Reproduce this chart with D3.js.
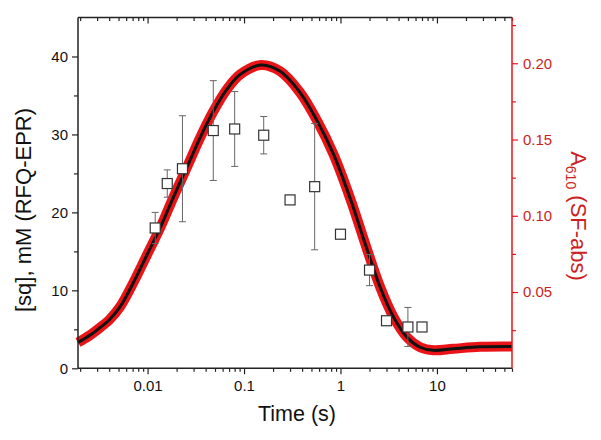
<!DOCTYPE html>
<html>
<head>
<meta charset="utf-8">
<script src="https://cdn.jsdelivr.net/npm/d3@7"></script>
<style>
  body { margin: 0; background: #fff; }
  svg { font-family: Arial, "Liberation Sans", sans-serif; }
</style>
</head>
<body>
<svg id="chart" width="601" height="440"></svg>
<script>
// ── Data ──────────────────────────────────────────────────────────
// RFQ-EPR points: time (s), [sq] (mM), error (mM)
const eprTime = [0.012, 0.016, 0.023, 0.048, 0.08, 0.16, 0.3, 0.54, 1.0, 2.0, 3.0, 5.0, 7.0];
const eprSq   = [18.0, 23.7, 25.6, 30.5, 30.7, 29.9, 21.6, 23.3, 17.2, 12.6, 6.1, 5.3, 5.3];
const eprErr  = [2.0, 1.75, 6.8, 6.4, 4.8, 2.4, 0.3, 8.1, 0.5, 2.0, 0.4, 2.5, 0];

// SF-abs trace (A610) and kinetic fit ([sq], mM)
const sfTime = [0.0019, 0.0025, 0.0032, 0.004, 0.0052, 0.0072, 0.0099, 0.0136, 0.0186, 0.0256,
                0.0351, 0.0483, 0.0665, 0.0914, 0.15, 0.237, 0.38, 0.57, 0.85, 1.26,
                1.88, 2.58, 3.54, 4.88, 6.7, 9.2, 14.8, 28, 60];
const sfA610 = [0.0169, 0.0215, 0.0266, 0.0317, 0.0404, 0.0567, 0.0746, 0.0925, 0.1124, 0.1319,
                0.1513, 0.1687, 0.1830, 0.1927, 0.1988, 0.1947, 0.1809, 0.1625, 0.1400, 0.1114,
                0.0782, 0.0532, 0.0337, 0.0204, 0.0138, 0.0118, 0.0128, 0.0141, 0.0143];
const fitSq  = [3.3, 4.2, 5.2, 6.2, 7.9, 11.1, 14.6, 18.1, 22.0, 25.8,
                29.6, 33.0, 35.8, 37.7, 38.9, 38.1, 35.4, 31.8, 27.4, 21.8,
                15.3, 10.4, 6.6, 4.0, 2.7, 2.3, 2.5, 2.75, 2.8];

const xMajor = [0.01, 0.1, 1, 10];
const xLabels = ['0.01', '0.1', '1', '10'];
const yLeftTicks = [0, 10, 20, 30, 40];
const yRightTicks = [0.05, 0.10, 0.15, 0.20];

// ── Layout ─────────────────────────────────────────────────────────
const L = 78, R = 512, T = 17.5, B = 368.3;
const RED = '#ea1418', RED_TXT = '#cc1f22', AX = '#222';

const svg = d3.select('#chart');
const x = d3.scaleLog().domain([0.0019, 60]).range([L, R]);
const yL = d3.scaleLinear().domain([0, 45]).range([B, T]);
const yR = d3.scaleLinear().domain([0, 0.23]).range([B, T]);

const xMinor = x.ticks().filter(t => !xMajor.some(m => Math.abs(m - t) / m < 1e-6));

// ── Curves ─────────────────────────────────────────────────────────
const sfLine = d3.line()
  .x((d, i) => x(sfTime[i]))
  .y(d => yR(d))
  .curve(d3.curveCatmullRom.alpha(0.5));
svg.append('path')
  .attr('d', sfLine(sfA610))
  .attr('fill', 'none')
  .attr('stroke', RED)
  .attr('stroke-width', 10)
  .attr('stroke-linejoin', 'round');

const fitLine = d3.line()
  .x((d, i) => x(sfTime[i]))
  .y(d => yL(d))
  .curve(d3.curveCatmullRom.alpha(0.5));
svg.append('path')
  .attr('d', fitLine(fitSq))
  .attr('fill', 'none')
  .attr('stroke', '#111')
  .attr('stroke-width', 3);

// ── Error bars + squares ───────────────────────────────────────────
const pts = eprTime.map((t, i) => ({ t, v: eprSq[i], e: eprErr[i] }));
const eb = svg.append('g').attr('stroke', '#666').attr('stroke-width', 1);
pts.filter(d => d.e > 0.6).forEach(d => {
  const cx = x(d.t);
  eb.append('line').attr('x1', cx).attr('x2', cx).attr('y1', yL(d.v + d.e)).attr('y2', yL(d.v - d.e));
  [d.v + d.e, d.v - d.e].forEach(v => {
    eb.append('line').attr('x1', cx - 3.5).attr('x2', cx + 3.5).attr('y1', yL(v)).attr('y2', yL(v));
  });
});
svg.append('g').selectAll('rect')
  .data(pts)
  .join('rect')
    .attr('x', d => x(d.t) - 5)
    .attr('y', d => yL(d.v) - 5)
    .attr('width', 10)
    .attr('height', 10)
    .attr('fill', '#fff')
    .attr('stroke', '#333')
    .attr('stroke-width', 1.2);

// ── Axes ───────────────────────────────────────────────────────────
function styleAxis(g, color) {
  g.select('.domain').remove();
  g.selectAll('line').attr('stroke', color).attr('stroke-width', 1.2);
  g.selectAll('text').attr('fill', color === AX ? '#111' : RED_TXT).style('font-size', '15px');
}

// bottom
svg.append('g').attr('transform', `translate(0,${B})`)
  .call(d3.axisBottom(x).tickValues(xMajor).tickFormat((d, i) => xLabels[i]).tickSize(6).tickPadding(6))
  .call(g => styleAxis(g, AX));
svg.append('g').attr('transform', `translate(0,${B})`)
  .call(d3.axisBottom(x).tickValues(xMinor).tickFormat('').tickSize(3.5))
  .call(g => styleAxis(g, AX));
// top (inward)
svg.append('g').attr('transform', `translate(0,${T})`)
  .call(d3.axisBottom(x).tickValues(xMajor).tickFormat('').tickSize(6))
  .call(g => styleAxis(g, AX));
svg.append('g').attr('transform', `translate(0,${T})`)
  .call(d3.axisBottom(x).tickValues(xMinor).tickFormat('').tickSize(3.5))
  .call(g => styleAxis(g, AX));

// left
svg.append('g').attr('transform', `translate(${L},0)`)
  .call(d3.axisLeft(yL).tickValues(yLeftTicks).tickSize(6).tickPadding(4))
  .call(g => styleAxis(g, AX));
svg.append('g').attr('transform', `translate(${L},0)`)
  .call(d3.axisLeft(yL).tickValues([5, 15, 25, 35]).tickFormat('').tickSize(4))
  .call(g => styleAxis(g, AX));

// right
svg.append('g').attr('transform', `translate(${R},0)`)
  .call(d3.axisRight(yR).tickValues(yRightTicks).tickFormat(d3.format('.2f')).tickSize(6).tickPadding(5))
  .call(g => styleAxis(g, RED));
svg.append('g').attr('transform', `translate(${R},0)`)
  .call(d3.axisRight(yR).tickValues([0.025, 0.075, 0.125, 0.175, 0.225]).tickFormat('').tickSize(4))
  .call(g => styleAxis(g, RED));

// frame
svg.append('line').attr('x1', L).attr('x2', R).attr('y1', T).attr('y2', T).attr('stroke', AX).attr('stroke-width', 1.5);
svg.append('line').attr('x1', L).attr('x2', R).attr('y1', B).attr('y2', B).attr('stroke', AX).attr('stroke-width', 1.5);
svg.append('line').attr('x1', L).attr('x2', L).attr('y1', T).attr('y2', B).attr('stroke', AX).attr('stroke-width', 1.5);
svg.append('line').attr('x1', R).attr('x2', R).attr('y1', T).attr('y2', B).attr('stroke', RED).attr('stroke-width', 1.5);

// ── Titles ─────────────────────────────────────────────────────────
svg.append('text')
  .attr('x', 297).attr('y', 421)
  .attr('text-anchor', 'middle')
  .style('font-size', '21.5px').attr('fill', '#111')
  .text('Time (s)');

svg.append('text')
  .attr('transform', 'translate(31,210) rotate(-90)')
  .attr('text-anchor', 'middle')
  .style('font-size', '22px').attr('fill', '#111')
  .text('[sq], mM (RFQ-EPR)');

const rt = svg.append('text')
  .attr('transform', 'translate(571,216) rotate(90)')
  .attr('text-anchor', 'middle')
  .style('font-size', '22px').attr('fill', RED_TXT);
rt.append('tspan').text('A');
rt.append('tspan').attr('dy', 5).style('font-size', '14px').text('610');
rt.append('tspan').attr('dy', -5).text(' (SF-abs)');
</script>
</body>
</html>
